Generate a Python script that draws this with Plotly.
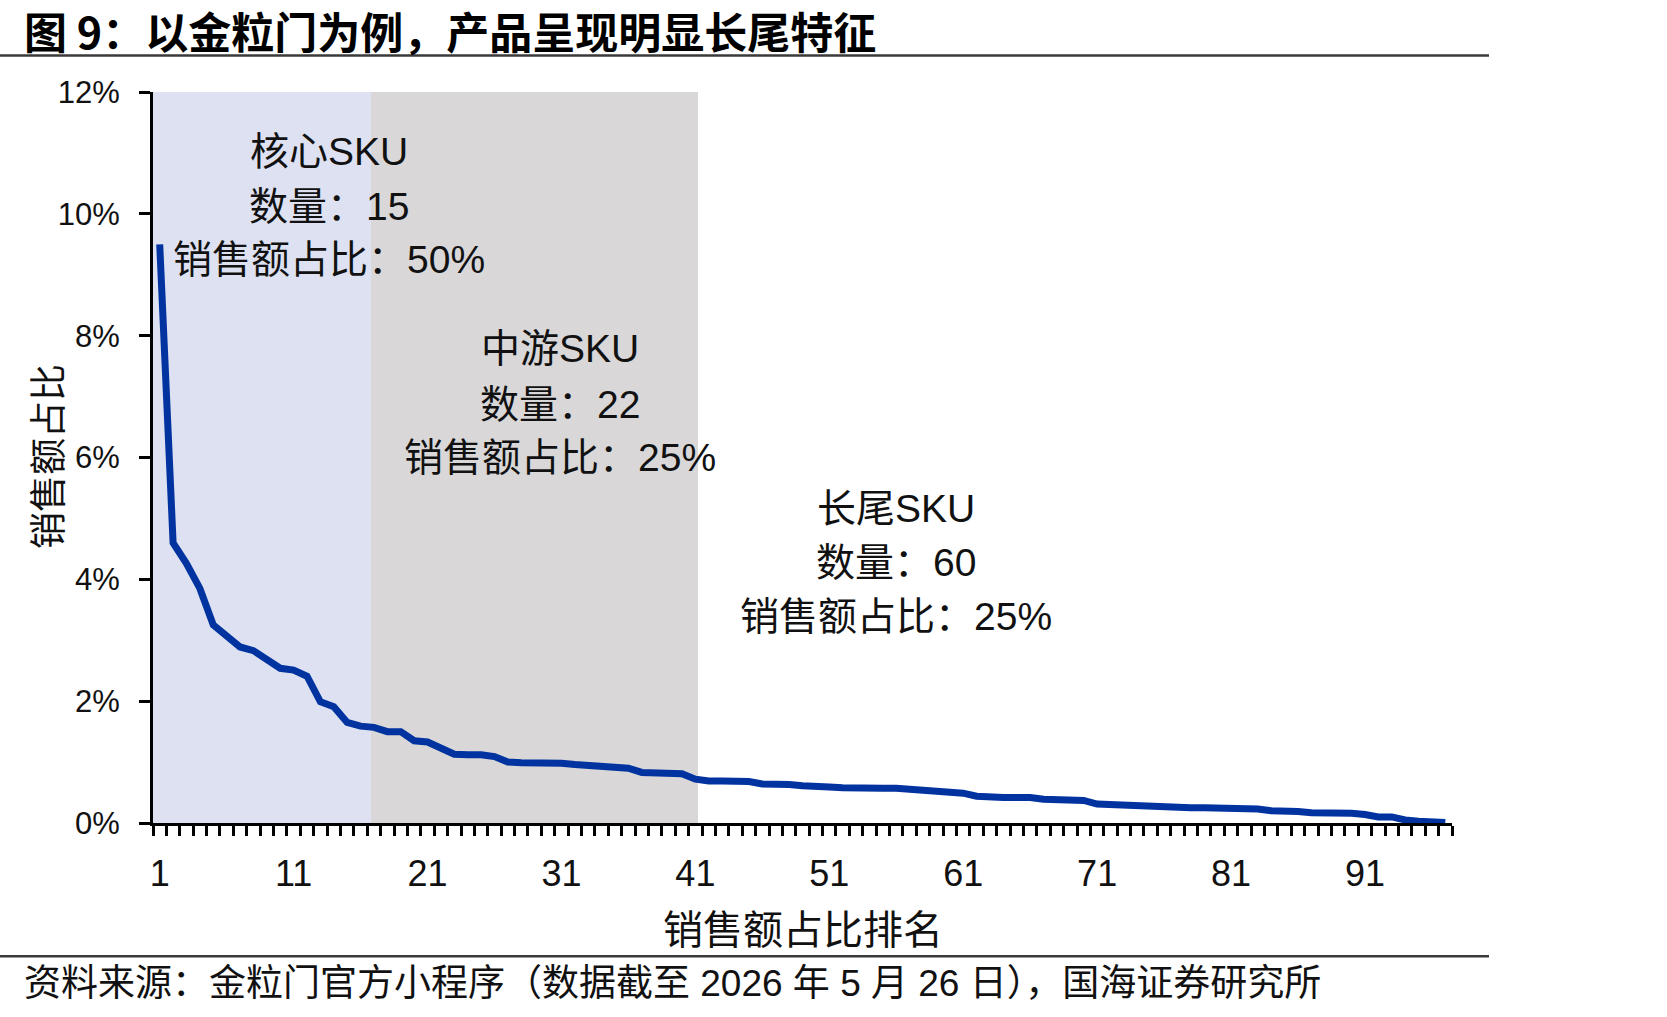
import plotly.graph_objects as go

# ---------------- data ----------------
ranks = list(range(1, 98))
share_pct = [
    9.50, 4.60, 4.26, 3.85, 3.25, 3.08, 2.89, 2.83, 2.67, 2.54,
    2.51, 2.41, 1.99, 1.91, 1.65, 1.59, 1.57, 1.50, 1.50, 1.35,
    1.33, 1.22, 1.13, 1.12, 1.12, 1.09, 1.00, 0.99, 0.99, 0.98,
    0.98, 0.96, 0.95, 0.93, 0.93, 0.90, 0.83, 0.83, 0.81, 0.81,
    0.72, 0.69, 0.69, 0.69, 0.68, 0.64, 0.64, 0.63, 0.61, 0.59,
    0.59, 0.58, 0.57, 0.57, 0.57, 0.57, 0.55, 0.55, 0.53, 0.50,
    0.49, 0.44, 0.42, 0.42, 0.42, 0.42, 0.39, 0.38, 0.37, 0.37,
    0.31, 0.30, 0.28, 0.28, 0.28, 0.27, 0.26, 0.25, 0.25, 0.25,
    0.25, 0.23, 0.23, 0.20, 0.20, 0.19, 0.17, 0.17, 0.16, 0.16,
    0.14, 0.10, 0.10, 0.05, 0.03, 0.03, 0.01,
]
x_tick_vals = [1, 11, 21, 31, 41, 51, 61, 71, 81, 91]
x_tick_text = ["1", "11", "21", "31", "41", "51", "61", "71", "81", "91"]
y_tick_vals = [0, 2, 4, 6, 8, 10, 12]
y_tick_text = ["0%", "2%", "4%", "6%", "8%", "10%", "12%"]

segment_bounds = [(0.5, 16.78), (16.78, 41.2)]
segment_colors = ["#DDE1F1", "#D9D7D8"]
segment_labels = [
    ["核心SKU", "数量：15", "销售额占比：50%"],
    ["中游SKU", "数量：22", "销售额占比：25%"],
    ["长尾SKU", "数量：60", "销售额占比：25%"],
]
title_text = "图 9：以金粒门为例，产品呈现明显长尾特征"
source_text = "资料来源：金粒门官方小程序（数据截至 2026 年 5 月 26 日），国海证券研究所"
y_title = "销售额占比"
x_title = "销售额占比排名"

# ---------------- layout geometry ----------------
W_FIG, H_FIG = 1667, 1017
L, T = 153, 91.5
PW, PH = 1299, 732
R = W_FIG - L - PW
B = H_FIG - T - PH


def px(xp):
    return (xp - L) / PW


def py(yp):
    return (T + PH - yp) / PH


LAT = "Liberation Sans, Noto Sans CJK SC"
CJK = "Noto Sans CJK SC, Liberation Sans"

fig = go.Figure()
fig.add_trace(go.Scatter(
    x=ranks, y=share_pct, mode="lines",
    line=dict(color="#0033A0", width=7),
    cliponaxis=False, showlegend=False,
))

shapes = []
for (x0, x1), c in zip(segment_bounds, segment_colors):
    shapes.append(dict(type="rect", xref="x", yref="y", x0=x0, x1=x1, y0=0, y1=12,
                       fillcolor=c, line=dict(width=0), layer="below"))
# header / footer rules
for yp in (55, 957):
    shapes.append(dict(type="line", xref="paper", yref="paper",
                       x0=px(0), x1=px(1489), y0=py(yp), y1=py(yp),
                       line=dict(color="#3A3A3A", width=2.5)))

annotations = []
block_centers = [(329, [151, 206, 259]), (560, [348, 404, 457]), (896, [509, 563, 617])]
for (cx, ys), lines in zip(block_centers, segment_labels):
    for yy, txt in zip(ys, lines):
        annotations.append(dict(text=txt, xref="paper", yref="paper", x=px(cx), y=py(yy),
                                xanchor="center", yanchor="middle", showarrow=False,
                                font=dict(family=LAT, size=39, color="#111111")))

annotations.append(dict(text="<b>" + title_text + "</b>", xref="paper", yref="paper",
                        x=px(22), y=py(29), xanchor="left", yanchor="middle", showarrow=False,
                        font=dict(family=CJK, size=43, color="#000000")))
annotations.append(dict(text=source_text, xref="paper", yref="paper",
                        x=px(22), y=py(984), xanchor="left", yanchor="middle", showarrow=False,
                        font=dict(family=LAT, size=37, color="#111111")))
annotations.append(dict(text=y_title, xref="paper", yref="paper",
                        x=px(46), y=py(457), xanchor="center", yanchor="middle", showarrow=False,
                        textangle=-90, font=dict(family=CJK, size=37, color="#111111")))
annotations.append(dict(text=x_title, xref="paper", yref="paper",
                        x=px(803), y=py(928), xanchor="center", yanchor="middle", showarrow=False,
                        font=dict(family=CJK, size=40, color="#111111")))

fig.update_layout(
    width=W_FIG, height=H_FIG,
    margin=dict(l=L, r=R, t=T, b=B, pad=0),
    paper_bgcolor="white", plot_bgcolor="white",
    shapes=shapes, annotations=annotations,
    xaxis=dict(
        range=[0.5, 97.5], showgrid=False, zeroline=False,
        showline=True, linecolor="black", linewidth=3,
        tickmode="array", tickvals=x_tick_vals, ticktext=x_tick_text,
        ticks="", ticklabelstandoff=17,
        tickfont=dict(family=LAT, size=36, color="#111111"),
        minor=dict(ticks="outside", tick0=0.5, dtick=1, ticklen=10, tickwidth=3,
                   tickcolor="black", showgrid=False),
    ),
    yaxis=dict(
        range=[0, 12], showgrid=False, zeroline=False,
        showline=True, linecolor="black", linewidth=3,
        tickmode="array", tickvals=y_tick_vals, ticktext=y_tick_text,
        ticks="outside", ticklen=11, tickwidth=3, tickcolor="black",
        ticklabelstandoff=13,
        tickfont=dict(family=LAT, size=31, color="#111111"),
    ),
)

fig.write_html("out.html")
